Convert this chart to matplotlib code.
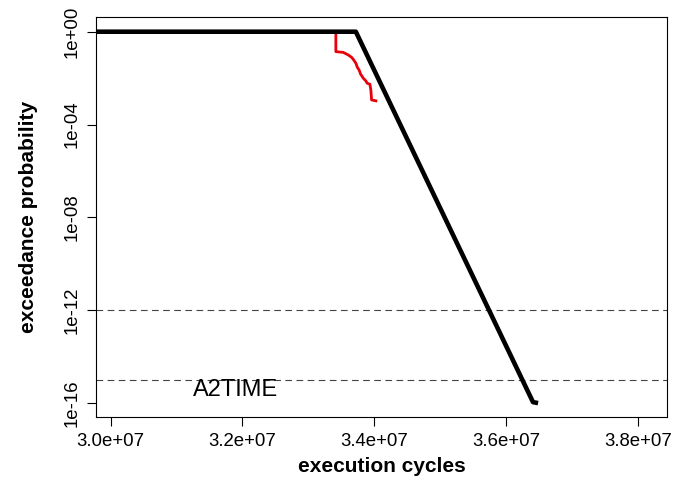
import matplotlib
matplotlib.use("Agg")
import matplotlib.pyplot as plt

plt.rcParams['font.family'] = ['Liberation Sans', 'DejaVu Sans']

# Black curve (projected tail)
black_x = [2.95e7, 3.372e7, 3.6408e7, 3.6485e7]
black_p = [1.0, 1.0, 1.1e-16, 1.0e-16]

# Red curve (empirical exceedance)
red_x = [2.95e7, 3.3417e7, 3.3417e7, 3.3528e7, 3.3604e7, 3.3655e7, 3.3680e7,
         3.3721e7, 3.3741e7, 3.3771e7, 3.3792e7, 3.3832e7, 3.3872e7,
         3.3892e7, 3.3933e7, 3.3948e7, 3.3959e7, 3.4024e7]
red_p = [1.0, 1.0, 0.138, 0.129, 0.100, 0.079, 0.065,
         0.044, 0.030, 0.022, 0.015, 0.010, 0.0076,
         0.0060, 0.0055, 0.0031, 0.00115, 0.00105]

hlines = [1e-12, 1e-15]
xticks = [3.0e7, 3.2e7, 3.4e7, 3.6e7, 3.8e7]
xticklabels = ["3.0e+07", "3.2e+07", "3.4e+07", "3.6e+07", "3.8e+07"]
yticks = [1e0, 1e-4, 1e-8, 1e-12, 1e-16]
yticklabels = ["1e+00", "1e-04", "1e-08", "1e-12", "1e-16"]

fig = plt.figure(figsize=(6.94, 4.84), dpi=100)
ax = fig.add_axes([0.139, 0.1384, 0.822, 0.8265])

for h in hlines:
    ax.axhline(h, color='#444444', lw=0.8, ls=(0, (6, 4)), zorder=1)

ax.plot(red_x, red_p, color='#e8000b', lw=2.0, zorder=2)
ax.plot(black_x, black_p, color='black', lw=3.3, zorder=3, solid_capstyle='butt')

ax.set_yscale('log')
ax.set_xlim(2.9785e7, 3.844e7)
ax.set_ylim(10**-16.6, 10**0.634)
ax.set_xticks(xticks)
ax.set_xticklabels(xticklabels)
ax.set_yticks(yticks)
ax.set_yticklabels(yticklabels)
ax.minorticks_off()
ax.tick_params(axis='both', direction='out', length=6.5, width=0.8, labelsize=13.4, pad=5)
ax.tick_params(axis='y', labelrotation=90)
for lab in ax.get_yticklabels():
    lab.set_va('center')

for s in ax.spines.values():
    s.set_linewidth(0.8)

ax.text(3.190e7, 10**-15.45, "A2TIME", fontsize=17, ha='center', va='center')

ax.set_xlabel("execution cycles", fontsize=15, fontweight='bold')
ax.set_ylabel("exceedance probability", fontsize=15, fontweight='bold')
ax.xaxis.set_label_coords(0.5, -0.1225)
ax.xaxis.label.set_va('center')
ax.yaxis.set_label_coords(-0.12, 0.5)
ax.yaxis.label.set_va('center')

fig.savefig("out.png", dpi=100)
